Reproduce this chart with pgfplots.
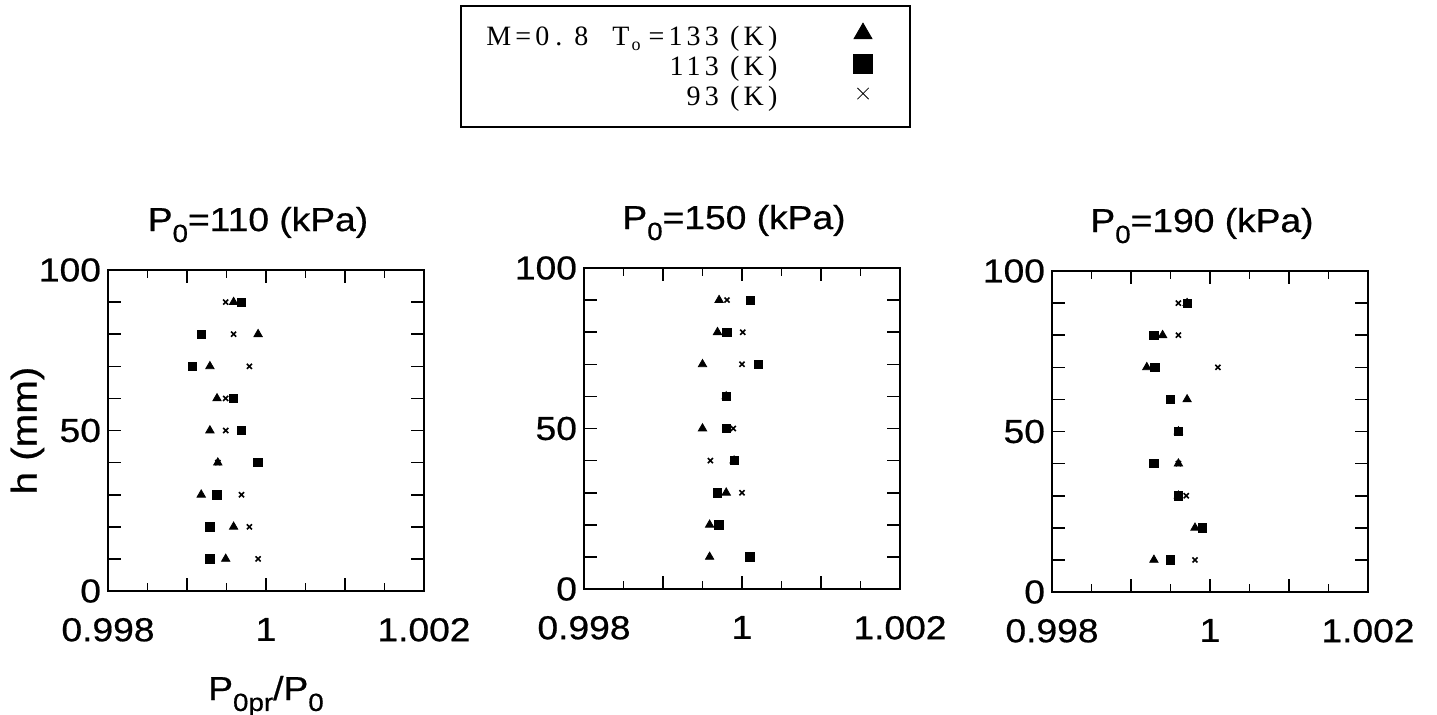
\documentclass[border=0pt]{standalone}
\usepackage{fontspec}
\setmainfont{Liberation Sans}[FakeStretch=1.12, FakeBold=0.6]
\newfontfamily\legfont[LetterSpace=15]{Liberation Serif}
\usepackage{pgfplots}
\pgfplotsset{compat=1.18}

\newcommand\lab{\fontsize{16.6bp}{19bp}\selectfont}
\newcommand\ylab{\fontsize{18bp}{20bp}\selectfont}
\newcommand\sub[1]{\raisebox{-0.33em}{\fontsize{12.4bp}{13bp}\selectfont #1}}
\newcommand\lsub[1]{\raisebox{-0.2em}{\fontsize{9bp}{10bp}\selectfont #1}}

\pgfplotsset{
  panel/.style={
    scale only axis, width=158bp, height=160.5bp, anchor=south west,
    xmin=0.998, xmax=1.002, ymin=0, ymax=100,
    xtick={0.998,0.999,1,1.001,1.002},
    xticklabels={0.998,,1,,1.002},
    minor xtick={0.9985,0.9995,1.0005,1.0015},
    ytick={0,10,20,30,40,50,60,70,80,90,100},
    yticklabels={0,,,,,50,,,,,100},
    major tick length=6.5bp, minor tick length=4bp,
    tick style={black, line width=0.8bp},
    axis line style={line width=1bp},
    tick label style={font=\lab},
    xticklabel style={yshift=-10bp},
    title style={font=\lab, at={(axis description cs:0.5,1)}, anchor=base, yshift=13.5bp, xshift=-4bp},
    legend image code/.code={\draw[##1] plot coordinates {(0bp,2.3bp)};},
  },
  tri/.style={only marks, mark=triangle*, mark size=2.4bp, black},
  sq/.style={only marks, mark=square*, mark size=2.1bp, black},
  cr/.style={only marks, mark=x, mark size=1.8bp, black, line width=0.8bp},
}

\begin{document}
\begin{tikzpicture}
\path[use as bounding box] (0,0) rectangle (718.5bp,-357.5bp);

% Panel 1: P0 = 110 kPa
\begin{axis}[panel, at={(54bp,-295.5bp)},
  title={P\sub{0}=110 (kPa)},
  ylabel={h (mm)},
  ylabel style={font=\ylab, at={(axis description cs:-0.255,0.5)}, anchor=center},
  xlabel={P\sub{0pr}/P\sub{0}},
  xlabel style={font=\lab, at={(axis description cs:0.5,0)}, anchor=base, yshift=-54.5bp}]
\addplot[cr] coordinates {(0.99990,10) (0.99979,20) (0.99969,30) (0.99939,40) (0.99949,50) (0.99949,60) (0.99979,70) (0.99959,80) (0.99949,90)};
\addplot[tri] coordinates {(0.99949,10) (0.99959,20) (0.99918,30) (0.99939,40) (0.99929,50) (0.99938,60) (0.99929,70) (0.99990,80) (0.99959,90)};
\addplot[sq] coordinates {(0.99929,10) (0.99929,20) (0.99938,30) (0.99990,40) (0.99969,50) (0.99959,60) (0.99907,70) (0.99918,80) (0.99969,90)};
\end{axis}

% Panel 2: P0 = 150 kPa
\begin{axis}[panel, at={(292bp,-294.5bp)},
  title={P\sub{0}=150 (kPa)},
  legend plot pos=right, legend cell align=right,
  legend style={at={(axis description cs:0.9146,1.764)}, anchor=north east,
    draw=none, fill=none, inner sep=0bp, column sep=36bp,
    font=\legfont\fontsize{14bp}{15bp}\selectfont,
    nodes={inner sep=2bp, text height=9bp, text depth=2bp}}]
\addlegendimage{only marks, mark=triangle*, mark size=5.2bp, black}
\addlegendentry{M=0\kern3bp.\kern6bp8\hspace{12bp}T\kern1bp\lsub{o}\kern4bp=133 (K)}
\addlegendimage{only marks, mark=square*, mark size=4.8bp, black}
\addlegendentry{113 (K)}
\addlegendimage{only marks, mark=x, mark size=4bp, line width=0.4bp, black}
\addlegendentry{93 (K)}
\addplot[cr, forget plot] coordinates {(1.00010,10) (0.99971,20) (1.00000,30) (0.99960,40) (0.99989,50) (0.99980,60) (1.00000,70) (1.00001,80) (0.99981,90)};
\addplot[tri, forget plot] coordinates {(0.99959,10) (0.99959,20) (0.99980,30) (0.99990,40) (0.99950,50) (0.99980,60) (0.99950,70) (0.99969,80) (0.99971,90)};
\addplot[sq, forget plot] coordinates {(1.00010,10) (0.99971,20) (0.99969,30) (0.99990,40) (0.99980,50) (0.99980,60) (1.00021,70) (0.99981,80) (1.00011,90)};
\end{axis}

% Panel 3: P0 = 190 kPa
\begin{axis}[panel, at={(526bp,-296bp)},
  title={P\sub{0}=190 (kPa)}]
\addplot[cr] coordinates {(0.99981,10) (0.99990,20) (0.99970,30) (0.99960,40) (0.99960,50) (0.99950,60) (1.00010,70) (0.99960,80) (0.99960,90)};
\addplot[tri] coordinates {(0.99929,10) (0.99981,20) (0.99960,30) (0.99960,40) (0.99960,50) (0.99971,60) (0.99920,70) (0.99940,80) (0.99971,90)};
\addplot[sq] coordinates {(0.99950,10) (0.99990,20) (0.99960,30) (0.99929,40) (0.99960,50) (0.99950,60) (0.99930,70) (0.99929,80) (0.99971,90)};
\end{axis}

\draw[line width=1bp] (230.5bp,-3bp) rectangle (455bp,-63.5bp);
\end{tikzpicture}
\end{document}
